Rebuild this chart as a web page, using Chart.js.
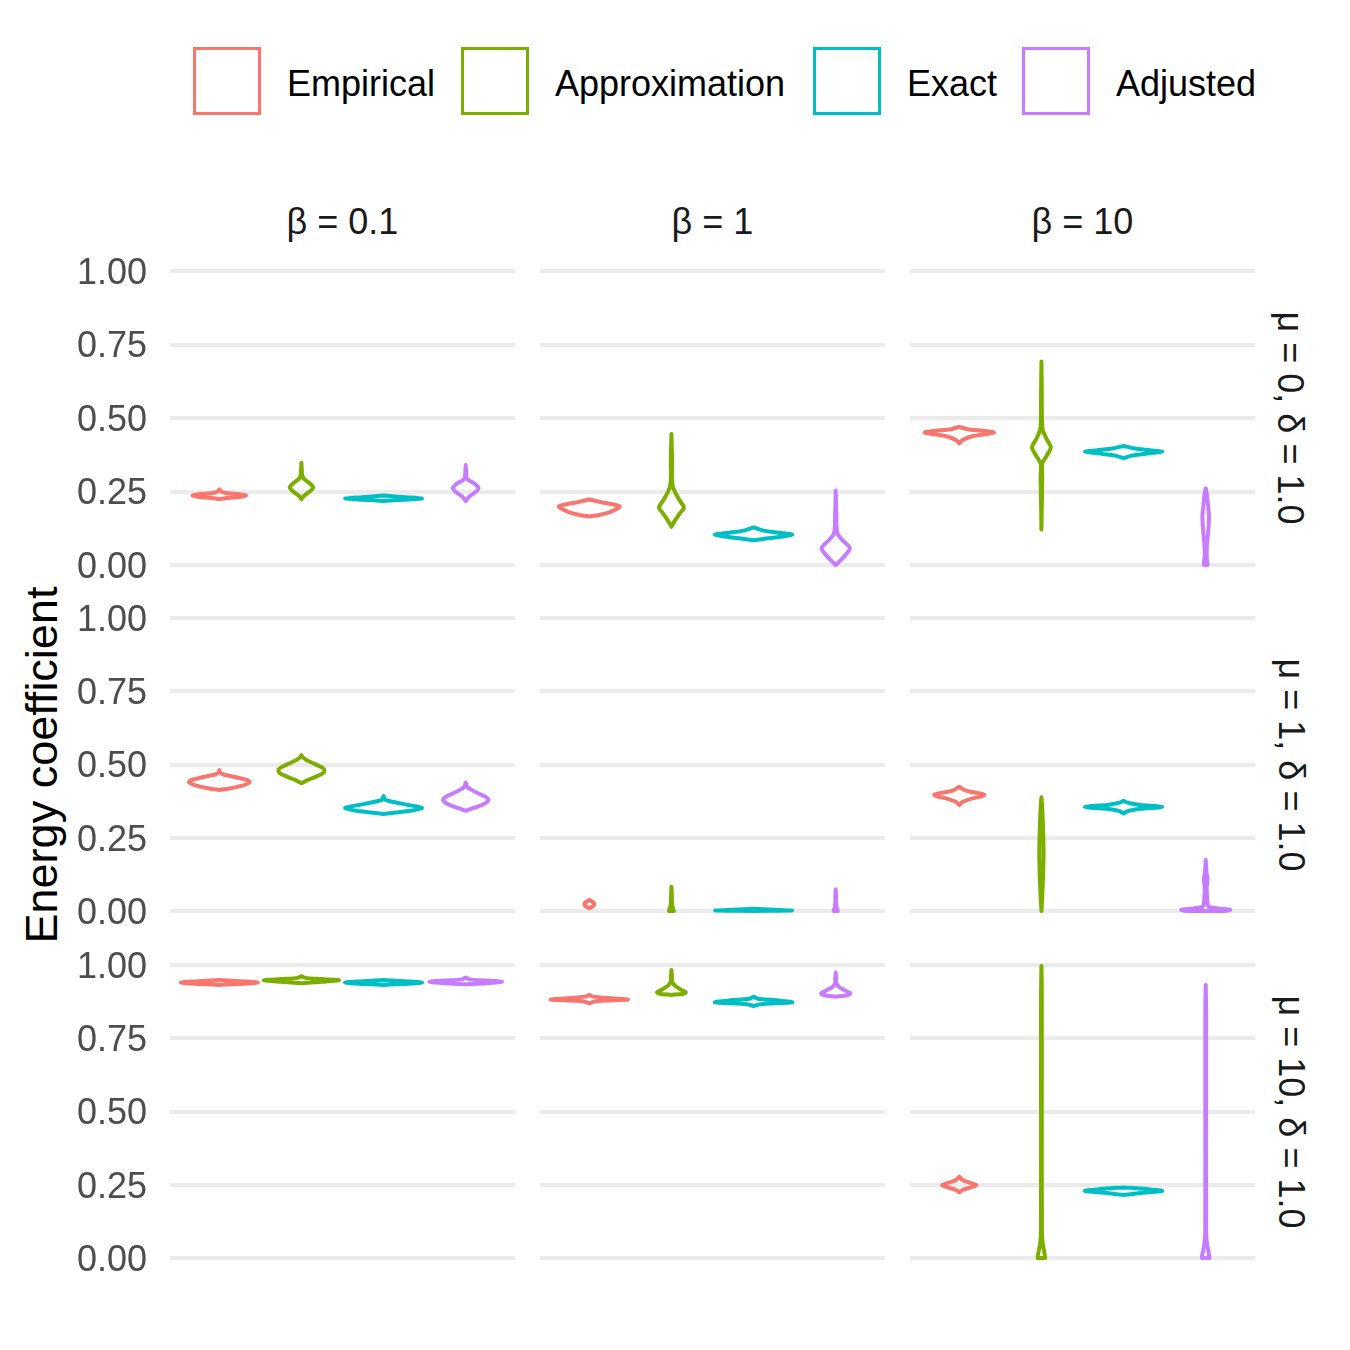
<!DOCTYPE html>
<html lang="en">
<head>
<meta charset="UTF-8" />
<title>Energy coefficient by method</title>
<script src="https://cdn.jsdelivr.net/npm/chart.js@4"></script>
<style>
  body { margin: 0; background: #fff; font-family: "Liberation Sans", Arial, sans-serif; }
  #wrap { position: relative; width: 1350px; height: 1350px; overflow: hidden; }
  canvas { position: absolute; }
  .key { position: absolute; top: 47px; width: 68px; height: 68px; box-sizing: border-box; border: 3px solid; }
  .keytxt { position: absolute; top: 50px; height: 68px; line-height: 68px; font-size: 36px; color: #000; white-space: nowrap; }
  .strip { position: absolute; font-size: 36px; color: #1A1A1A; text-align: center; white-space: nowrap; height: 40px; line-height: 40px; }
  #ytitle { position: absolute; width: 700px; height: 50px; line-height: 50px; left: -308px; top: 740px;
            font-size: 45px; text-align: center; transform: rotate(-90deg); color: #000; }
</style>
</head>
<body>
<div id="wrap">
  <div id="ytitle">Energy coefficient</div>
</div>
<script>
const methods = ["Empirical", "Approximation", "Exact", "Adjusted"];
const colors = ["#F8766D", "#7CAE00", "#00BFC4", "#C77CFF"];
const betaLabels = ["β = 0.1", "β = 1", "β = 10"];
const rowLabels = ["μ = 0, δ = 1.0", "μ = 1, δ = 1.0", "μ = 10, δ = 1.0"];
const yTicks = [0, 0.25, 0.5, 0.75, 1];

// violin profiles: [value, half width in category units], one per method
const mu0Beta01 = [
  [[0.224,0],[0.228,0.1],[0.233,0.28],[0.237,0.325],[0.241,0.25],[0.245,0.08],[0.25,0.02],[0.257,0]],
  [[0.224,0],[0.235,0.03],[0.25,0.1],[0.264,0.142],[0.278,0.1],[0.293,0.03],[0.305,0.01],[0.348,0]],
  [[0.218,0],[0.222,0.25],[0.226,0.467],[0.23,0.3],[0.236,0]],
  [[0.218,0],[0.232,0.04],[0.248,0.12],[0.261,0.156],[0.274,0.12],[0.288,0.04],[0.296,0.012],[0.34,0]]
];
const mu0Beta1 = [
  [[0.165,0],[0.17,0.12],[0.18,0.25],[0.192,0.34],[0.199,0.371],[0.206,0.3],[0.213,0.15],[0.223,0]],
  [[0.13,0],[0.15,0.04],[0.175,0.1],[0.195,0.152],[0.22,0.1],[0.25,0.04],[0.27,0.015],[0.3,0.006],[0.35,0.008],[0.4,0.004],[0.446,0]],
  [[0.084,0],[0.09,0.15],[0.098,0.38],[0.104,0.47],[0.11,0.3],[0.117,0.12],[0.128,0]],
  [[0,0],[0.025,0.09],[0.057,0.172],[0.085,0.08],[0.105,0.025],[0.13,0.01],[0.17,0.008],[0.2,0.004],[0.253,0]]
];
const mu0Beta10 = [
  [[0.414,0],[0.425,0.04],[0.437,0.15],[0.447,0.36],[0.451,0.422],[0.456,0.3],[0.462,0.1],[0.47,0]],
  [[0.121,0],[0.2,0.004],[0.3,0.01],[0.33,0.006],[0.346,0.01],[0.37,0.06],[0.4,0.114],[0.43,0.06],[0.46,0.015],[0.5,0.006],[0.6,0.004],[0.692,0]],
  [[0.363,0],[0.372,0.1],[0.38,0.3],[0.385,0.47],[0.39,0.32],[0.397,0.12],[0.405,0]],
  [[0,0.022],[0.03,0.012],[0.07,0.016],[0.12,0.032],[0.165,0.04],[0.21,0.026],[0.245,0.012],[0.261,0]]
];
const mu1Beta01 = [
  [[0.413,0],[0.418,0.12],[0.428,0.28],[0.44,0.37],[0.448,0.33],[0.458,0.18],[0.466,0.05],[0.472,0.01],[0.481,0]],
  [[0.436,0],[0.445,0.06],[0.458,0.17],[0.47,0.26],[0.48,0.28],[0.49,0.25],[0.502,0.16],[0.515,0.06],[0.525,0.015],[0.532,0]],
  [[0.331,0],[0.336,0.15],[0.345,0.38],[0.352,0.467],[0.362,0.3],[0.372,0.12],[0.38,0.02],[0.392,0]],
  [[0.342,0],[0.35,0.08],[0.362,0.2],[0.372,0.26],[0.38,0.276],[0.39,0.24],[0.402,0.15],[0.415,0.06],[0.425,0.015],[0.438,0]]
];
const mu1Beta1 = [
  [[0.01,0],[0.016,0.045],[0.024,0.061],[0.031,0.04],[0.038,0]],
  [[0,0.03],[0.012,0.015],[0.03,0.006],[0.06,0.004],[0.083,0]],
  [[0,0],[0.001,0.3],[0.002,0.467],[0.004,0.25],[0.008,0]],
  [[0,0.025],[0.012,0.012],[0.03,0.005],[0.05,0.004],[0.074,0]]
];
const mu1Beta10 = [
  [[0.362,0],[0.372,0.04],[0.382,0.13],[0.392,0.28],[0.397,0.304],[0.403,0.22],[0.411,0.08],[0.424,0]],
  [[0,0],[0.05,0.01],[0.12,0.02],[0.2,0.026],[0.28,0.02],[0.35,0.01],[0.388,0]],
  [[0.333,0],[0.341,0.05],[0.349,0.2],[0.355,0.47],[0.362,0.2],[0.369,0.06],[0.376,0]],
  [[0,0.22],[0.004,0.298],[0.009,0.15],[0.015,0.035],[0.04,0.018],[0.08,0.012],[0.11,0.022],[0.13,0.01],[0.174,0]]
];
const mu10Beta01 = [
  [[0.932,0],[0.936,0.3],[0.94,0.47],[0.944,0.3],[0.949,0]],
  [[0.938,0],[0.943,0.25],[0.948,0.459],[0.952,0.25],[0.956,0.05],[0.962,0]],
  [[0.932,0],[0.936,0.3],[0.94,0.47],[0.944,0.3],[0.949,0]],
  [[0.934,0],[0.938,0.25],[0.943,0.442],[0.947,0.25],[0.951,0.05],[0.957,0]]
];
const mu10Beta1 = [
  [[0.869,0],[0.876,0.08],[0.882,0.47],[0.886,0.3],[0.892,0.05],[0.898,0]],
  [[0.898,0],[0.902,0.14],[0.907,0.175],[0.915,0.12],[0.93,0.04],[0.943,0.008],[0.96,0.005],[0.983,0]],
  [[0.86,0],[0.866,0.08],[0.873,0.47],[0.879,0.3],[0.885,0.05],[0.892,0]],
  [[0.892,0],[0.897,0.14],[0.903,0.178],[0.912,0.12],[0.925,0.04],[0.938,0.008],[0.955,0.005],[0.974,0]]
];
const mu10Beta10 = [
  [[0.224,0],[0.232,0.04],[0.241,0.14],[0.248,0.209],[0.256,0.14],[0.266,0.04],[0.278,0]],
  [[0,0.045],[0.02,0.035],[0.05,0.015],[0.09,0.006],[0.5,0.005],[0.9,0.005],[0.997,0]],
  [[0.215,0],[0.222,0.2],[0.229,0.47],[0.235,0.3],[0.241,0]],
  [[0,0.045],[0.02,0.035],[0.05,0.015],[0.09,0.006],[0.5,0.005],[0.85,0.005],[0.932,0]]
];

const panels = [
  [mu0Beta01, mu0Beta1, mu0Beta10],
  [mu1Beta01, mu1Beta1, mu1Beta10],
  [mu10Beta01, mu10Beta1, mu10Beta10]
];

// page layout
const colLeft = [170, 540, 910];
const panelW = 345;
const rowTop = [271, 618, 965];
const rowH = [294, 293, 293];
const font = '"Liberation Sans", Arial, sans-serif';
const wrap = document.getElementById("wrap");

Chart.defaults.font.family = font;

// legend
const keyLeft = [193, 461, 813, 1022];
methods.forEach((m, i) => {
  const box = document.createElement("div");
  box.className = "key";
  box.style.left = keyLeft[i] + "px";
  box.style.borderColor = colors[i];
  wrap.appendChild(box);
  const t = document.createElement("div");
  t.className = "keytxt";
  t.style.left = (keyLeft[i] + 94) + "px";
  t.textContent = m;
  wrap.appendChild(t);
});

// facet strips
betaLabels.forEach((b, c) => {
  const d = document.createElement("div");
  d.className = "strip";
  d.style.left = colLeft[c] + "px";
  d.style.width = panelW + "px";
  d.style.top = "202px";
  d.textContent = b;
  wrap.appendChild(d);
});
rowLabels.forEach((lab, r) => {
  const d = document.createElement("div");
  d.className = "strip";
  const mid = rowTop[r] + rowH[r] / 2;
  d.style.width = rowH[r] + "px";
  d.style.left = (1290 - rowH[r] / 2) + "px";
  d.style.top = (mid - 20) + "px";
  d.style.transform = "rotate(90deg)";
  d.textContent = lab;
  wrap.appendChild(d);
});

function outline(profile, center) {
  const right = profile.map(([v, w]) => ({ x: center + w, y: v }));
  const left = profile.slice().reverse().map(([v, w]) => ({ x: center - w, y: v }));
  const pts = right.concat(left);
  pts.push(pts[0]);
  return pts;
}

panels.forEach((row, r) => {
  row.forEach((profiles, c) => {
    const cv = document.createElement("canvas");
    const left = c === 0 ? 0 : colLeft[c] - 10;
    const w = c === 0 ? colLeft[0] + panelW + 20 : panelW + 30;
    cv.width = w;
    cv.height = rowH[r] + 40;
    cv.style.left = left + "px";
    cv.style.top = (rowTop[r] - 20) + "px";
    wrap.appendChild(cv);

    new Chart(cv, {
      type: "scatter",
      data: {
        datasets: profiles.map((p, i) => ({
          label: methods[i],
          data: outline(p, i + 1),
          showLine: true,
          fill: false,
          borderColor: colors[i],
          backgroundColor: "transparent",
          borderWidth: 4,
          borderJoinStyle: "round",
          borderCapStyle: "round",
          pointRadius: 0,
          tension: 0.25,
          clip: false
        }))
      },
      options: {
        responsive: false,
        animation: false,
        devicePixelRatio: 1,
        layout: { padding: { left: c === 0 ? 0 : 10, right: 20, top: 20, bottom: 20 } },
        plugins: { legend: { display: false }, tooltip: { enabled: false } },
        scales: {
          x: { type: "linear", min: 0.4, max: 4.6, display: false },
          y: {
            min: 0,
            max: 1,
            afterBuildTicks: s => { s.ticks = yTicks.map(v => ({ value: v })); },
            afterFit: s => {
              s.width = c === 0 ? colLeft[0] : 0;
              s.paddingTop = 0;
              s.paddingBottom = 0;
            },
            grid: { color: "#EBEBEB", lineWidth: 4, drawTicks: false },
            border: { display: false },
            ticks: {
              display: c === 0,
              padding: 23,
              labelOffset: 3,
              color: "#4D4D4D",
              font: { size: 36, family: font },
              callback: v => Number(v).toFixed(2)
            }
          }
        }
      }
    });
  });
});
</script>
</body>
</html>
